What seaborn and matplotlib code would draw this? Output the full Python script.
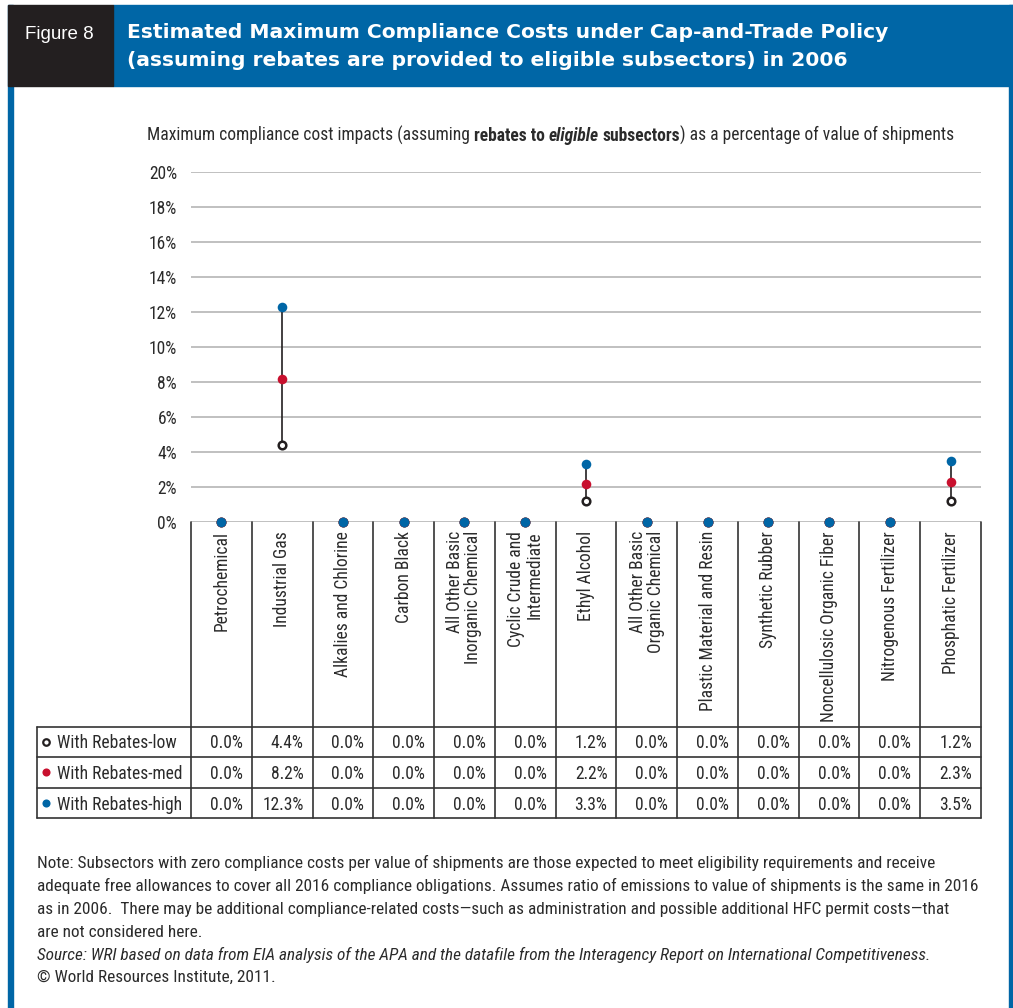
import numpy as np
import pandas as pd
import matplotlib.pyplot as plt
import matplotlib.transforms as mtrans
from matplotlib import font_manager as fm
import seaborn as sns

categories = ['Petrochemical', 'Industrial Gas', 'Alkalies and Chlorine', 'Carbon Black',
              'All Other Basic\nInorganic Chemical', 'Cyclic Crude and\nIntermediate',
              'Ethyl Alcohol', 'All Other Basic\nOrganic Chemical', 'Plastic Material and Resin',
              'Synthetic Rubber', 'Noncellulosic Organic Fiber', 'Nitrogenous Fertilizer',
              'Phosphatic Fertilizer']
rebates_low = [0.0, 4.4, 0.0, 0.0, 0.0, 0.0, 1.2, 0.0, 0.0, 0.0, 0.0, 0.0, 1.2]
rebates_med = [0.0, 8.2, 0.0, 0.0, 0.0, 0.0, 2.2, 0.0, 0.0, 0.0, 0.0, 0.0, 2.3]
rebates_high = [0.0, 12.3, 0.0, 0.0, 0.0, 0.0, 3.3, 0.0, 0.0, 0.0, 0.0, 0.0, 3.5]
series_names = ['With Rebates-low', 'With Rebates-med', 'With Rebates-high']
y_ticks = list(range(0, 21, 2))

title_lines = ['Estimated Maximum Compliance Costs under Cap-and-Trade Policy',
               '(assuming rebates are provided to eligible subsectors) in 2006']
note_lines = [
    'Note: Subsectors with zero compliance costs per value of shipments are those expected to meet eligibility requirements and receive',
    'adequate free allowances to cover all 2016 compliance obligations. Assumes ratio of emissions to value of shipments is the same in 2016',
    'as in 2006.  There may be additional compliance-related costs\u2014such as administration and possible additional HFC permit costs\u2014that',
    'are not considered here.',
]
source_line = 'Source: WRI based on data from EIA analysis of the APA and the datafile from the Interagency Report on International Competitiveness.'
copyright_line = '\u00a9 World Resources Institute, 2011.'

BLUE = '#0066A6'
RED = '#C8102E'
DARK = '#231F20'
TXT = '#2B2B2B'

# a condensed face, close to the original's narrow grotesque
installed = {f.name for f in fm.fontManager.ttflist}
body_font = 'DejaVu Sans'
for cand in ['Roboto Condensed', 'Liberation Sans Narrow', 'IBM Plex Sans Condensed', 'Fira Sans Condensed']:
    if cand in installed:
        body_font = cand
        break

sns.set_style('white')
NARROW = [body_font, 'DejaVu Sans']
plt.rcParams['font.family'] = NARROW

W, H = 1013, 1008
fig = plt.figure(figsize=(W / 100, H / 100), dpi=100)
renderer = fig.canvas.get_renderer()


def fx(px):
    return px / W


def fy(py):
    return 1 - py / H


def text_width(s, size, **kw):
    t = fig.text(0, 0, s, fontsize=size, **kw)
    w = t.get_window_extent(renderer).width
    t.remove()
    return w


# scale body text so it spans about the same width as in the original
base = 12.5 * (925 - 37) / text_width(note_lines[0], 12.5)
FS = float(np.clip(base * 1.033, 10.5, 14.5))
FS_NOTE = float(np.clip(base * 1.012, 10.5, 14.5))

# frame and header
fig.patches.append(plt.Rectangle((fx(8), 0), fx(5), fy(5), transform=fig.transFigure, color=BLUE))
fig.patches.append(plt.Rectangle((fx(1009), 0), fx(4), fy(5), transform=fig.transFigure, color=BLUE))
fig.patches.append(plt.Rectangle((fx(113), fy(86)), fx(900), (86 - 5) / H, transform=fig.transFigure, color=BLUE))
fig.patches.append(plt.Rectangle((fx(8), fy(86)), fx(105), (86 - 5) / H, transform=fig.transFigure, color=DARK))
fig.text(fx(25), fy(39), 'Figure 8', color='white', fontsize=13.5, family=['Liberation Sans', 'DejaVu Sans'], va='baseline')
fig.text(fx(127), fy(38), title_lines[0], color='white', fontsize=14.6, family='DejaVu Sans', weight='bold', va='baseline')
fig.text(fx(127), fy(66), title_lines[1], color='white', fontsize=14.6, family='DejaVu Sans', weight='bold', va='baseline')

# main chart
ax = fig.add_axes([fx(191), fy(522), (981 - 191) / W, (522 - 172) / H])
pos = np.arange(len(categories))
df = pd.DataFrame({
    'pos': np.tile(pos, 3),
    'value': rebates_low + rebates_med + rebates_high,
    'series': np.repeat(series_names, len(categories)),
})

ax.vlines(pos, rebates_low, rebates_high, color=DARK, lw=1.2, zorder=3)
sns.scatterplot(data=df[df.series == series_names[0]], x='pos', y='value', ax=ax,
                marker='o', s=30, facecolor='white', edgecolor=DARK, linewidth=1.8,
                zorder=4, clip_on=False, legend=False)
sns.scatterplot(data=df[df.series == series_names[1]], x='pos', y='value', ax=ax,
                marker='o', s=48, color=RED, linewidth=0, zorder=5, clip_on=False, legend=False)
sns.scatterplot(data=df[df.series == series_names[2]], x='pos', y='value', ax=ax,
                marker='o', s=48, color=BLUE, linewidth=0, zorder=6, clip_on=False, legend=False)

ax.set_xlim(-0.5, len(categories) - 0.5)
ax.set_ylim(0, 20)
ax.set_yticks(y_ticks)
ax.set_yticklabels([f'{v}%' for v in y_ticks], fontsize=FS, color=TXT)
ax.set_xticks([])
ax.set_xlabel('')
ax.set_ylabel('')
ax.tick_params(axis='y', length=0, pad=10)
ax.yaxis.grid(True, color='#B5B5B5', lw=1.2)
ax.set_axisbelow(True)
for sp in ax.spines.values():
    sp.set_visible(False)

# subtitle with mixed styles
space_n = text_width('x x', FS) - text_width('xx', FS)
space_b = text_width('x x', FS, weight='bold') - text_width('xx', FS, weight='bold')
parts = [
    ('Maximum compliance cost impacts (assuming', {}, space_n),
    ('rebates to', {'weight': 'bold'}, space_b),
    ('eligible', {'weight': 'bold', 'style': 'italic'}, space_b),
    ('subsectors', {'weight': 'bold'}, -1),
    (') as a percentage of value of shipments', {}, 0),
]
x = 147
for s, kw, gap in parts:
    t = fig.text(fx(x), fy(141), s, fontsize=FS, color=TXT, va='baseline', **kw)
    x += t.get_window_extent(renderer).width + gap

# table under the chart
tr_data = mtrans.blended_transform_factory(ax.transData, fig.transFigure)
tr_axes = mtrans.blended_transform_factory(ax.transAxes, fig.transFigure)
left_edge = (37 - 191) / (981 - 191)
line_kw = dict(color='#333333', lw=1.2, clip_on=False, zorder=2)
for b in np.arange(len(categories) + 1) - 0.5:
    ax.plot([b, b], [fy(522), fy(818)], transform=tr_data, **line_kw)
for yy in [727, 757, 788, 818]:
    ax.plot([left_edge, 1], [fy(yy), fy(yy)], transform=tr_axes, **line_kw)
ax.plot([left_edge, left_edge], [fy(727), fy(818)], transform=tr_axes, **line_kw)

for i, name in enumerate(categories):
    ax.text(i, fy(531), name, transform=tr_data, rotation=90, ha='center', va='top',
            multialignment='right', fontsize=FS, color=TXT, linespacing=1.0)

row_base = [748, 779, 810]
row_mid = [742, 772, 803]
row_vals = [rebates_low, rebates_med, rebates_high]
for r, vals in enumerate(row_vals):
    for i, v in enumerate(vals):
        ax.annotate(f'{v:.1f}%', xy=(i + 0.5, fy(row_base[r])), xycoords=tr_data,
                    xytext=(-9, 0), textcoords='offset pixels', ha='right', va='baseline',
                    fontsize=FS, color=TXT, annotation_clip=False)
    ax.text((57 - 191) / 790, fy(row_base[r]), series_names[r], transform=tr_axes,
            ha='left', va='baseline', fontsize=FS, color=TXT)

mx = (46 - 191) / 790
ax.scatter([mx], [fy(row_mid[0])], transform=tr_axes, s=22, facecolor='white',
           edgecolor=DARK, linewidth=1.6, clip_on=False)
ax.scatter([mx], [fy(row_mid[1])], transform=tr_axes, s=34, color=RED, linewidth=0, clip_on=False)
ax.scatter([mx], [fy(row_mid[2])], transform=tr_axes, s=34, color=BLUE, linewidth=0, clip_on=False)

# notes
note_base = [868, 891, 914, 937]
for yy, line in zip(note_base, note_lines):
    fig.text(fx(37), fy(yy), line, fontsize=FS_NOTE, color=TXT, va='baseline')
fig.text(fx(37), fy(960), source_line, fontsize=FS_NOTE, color=TXT, style='italic', va='baseline')
fig.text(fx(37), fy(982), copyright_line, fontsize=FS_NOTE, color=TXT, va='baseline')

fig.savefig('out.png', dpi=100, facecolor='white')
